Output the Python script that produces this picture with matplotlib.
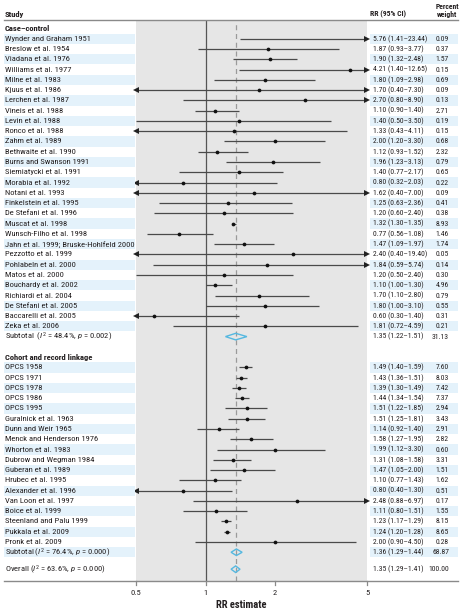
import matplotlib
matplotlib.use("Agg")
import matplotlib.pyplot as plt
import matplotlib.transforms as mtransforms
from matplotlib import font_manager as fm
from matplotlib.patches import Polygon, Rectangle
from matplotlib.lines import Line2D
from matplotlib.textpath import TextPath
from matplotlib.font_manager import FontProperties

# ---------------- data ----------------
cc_studies = ["Wynder and Graham 1951", "Breslow et al. 1954", "Viadana et al. 1976",
              "Williams et al. 1977", "Milne et al. 1983", "Kjuus et al. 1986",
              "Lerchen et al. 1987", "Vineis et al. 1988", "Levin et al. 1988",
              "Ronco et al. 1988", "Zahm et al. 1989", "Bethwaite et al. 1990",
              "Burns and Swanson 1991", "Siemiatycki et al. 1991", "Morabia et al. 1992",
              "Notani et al. 1993", "Finkelstein et al. 1995", "De Stefani et al. 1996",
              "Muscat et al. 1998", "Wunsch-Filho et al. 1998",
              "Jahn et al. 1999; Bruske-Hohlfeld 2000", "Pezzotto et al. 1999",
              "Pohlabeln et al. 2000", "Matos et al. 2000", "Bouchardy et al. 2002",
              "Richiardi et al. 2004", "De Stefani et al. 2005", "Baccarelli et al. 2005",
              "Zeka et al. 2006"]
cc_rr = [5.76, 1.87, 1.90, 4.21, 1.80, 1.70, 2.70, 1.10, 1.40, 1.33, 2.00, 1.12, 1.96, 1.40,
         0.80, 1.62, 1.25, 1.20, 1.32, 0.77, 1.47, 2.40, 1.84, 1.20, 1.10, 1.70, 1.80, 0.60, 1.81]
cc_lo = [1.41, 0.93, 1.32, 1.40, 1.09, 0.40, 0.80, 0.90, 0.50, 0.43, 1.20, 0.93, 1.23, 0.77,
         0.32, 0.40, 0.63, 0.60, 1.30, 0.56, 1.09, 0.40, 0.59, 0.50, 1.00, 1.10, 1.00, 0.30, 0.72]
cc_hi = [23.44, 3.77, 2.48, 12.65, 2.98, 7.30, 8.90, 1.40, 3.50, 4.11, 3.30, 1.52, 3.13, 2.17,
         2.03, 7.00, 2.36, 2.40, 1.35, 1.08, 1.97, 19.40, 5.74, 2.40, 1.30, 2.80, 3.10, 1.40, 4.59]
cc_w = [0.09, 0.37, 1.57, 0.15, 0.69, 0.09, 0.13, 2.71, 0.19, 0.15, 0.68, 2.32, 0.79, 0.65,
        0.22, 0.09, 0.41, 0.38, 8.93, 1.46, 1.74, 0.05, 0.14, 0.30, 4.96, 0.79, 0.55, 0.31, 0.21]
cc_sub = (1.35, 1.22, 1.51, 31.13)
cc_sub_label = r"Subtotal  ($\mathit{I}^{2}$ = 48.4%, $\mathit{p}$ = 0.002)"

co_studies = ["OPCS 1958", "OPCS 1971", "OPCS 1978", "OPCS 1986", "OPCS 1995",
              "Guralnick et al. 1963", "Dunn and Weir 1965", "Menck and Henderson 1976",
              "Whorton et al. 1983", "Dubrow and Wegman 1984", "Guberan et al. 1989",
              "Hrubec et al. 1995", "Alexander et al. 1996", "Van Loon et al. 1997",
              "Boice et al. 1999", "Steenland and Palu 1999", "Pukkala et al. 2009",
              "Pronk et al. 2009"]
co_rr = [1.49, 1.43, 1.39, 1.44, 1.51, 1.51, 1.14, 1.58, 1.99, 1.31, 1.47, 1.10, 0.80, 2.48,
         1.11, 1.23, 1.24, 2.00]
co_lo = [1.40, 1.36, 1.30, 1.34, 1.22, 1.25, 0.92, 1.27, 1.12, 1.08, 1.05, 0.77, 0.40, 0.88,
         0.80, 1.17, 1.20, 0.90]
co_hi = [1.59, 1.51, 1.49, 1.54, 1.85, 1.81, 1.40, 1.95, 3.30, 1.58, 2.00, 1.43, 1.30, 6.97,
         1.51, 1.29, 1.28, 4.50]
co_w = [7.60, 8.03, 7.42, 7.37, 2.94, 3.43, 2.91, 2.82, 0.60, 3.31, 1.51, 1.62, 0.51, 0.17,
        1.55, 8.15, 8.65, 0.28]
co_sub = (1.36, 1.29, 1.44, 68.87)
co_sub_label = r"Subtotal ($\mathit{I}^{2}$ = 76.4%, $\mathit{p}$ = 0.000)"

overall = (1.35, 1.29, 1.41, 100.00)
overall_label = r"Overall ($\mathit{I}^{2}$ = 63.6%, $\mathit{p}$ = 0.000)"

xticks = [0.5, 1, 2, 5]
xtick_labels = ["0.5", "1", "2", "5"]
xmin, xmax = 0.5, 5
ref_null = 1.0
ref_pooled = 1.35

# ---------------- font choice ----------------
entries = fm.fontManager.ttflist
names = {f.name for f in entries}
family = None
for cand in ['Liberation Sans Narrow', 'Roboto Condensed', 'Open Sans Condensed',
             'Noto Sans Condensed', 'DejaVu Sans Condensed', 'Arial Narrow']:
    if cand in names:
        family = cand
        break
if family is None:
    family = 'Liberation Sans' if 'Liberation Sans' in names else 'DejaVu Sans'

plt.rcParams['font.family'] = [family, 'DejaVu Sans']
plt.rcParams['mathtext.fontset'] = 'custom'
plt.rcParams['mathtext.rm'] = family
plt.rcParams['mathtext.it'] = family + ':italic'


def text_width(s, size, weight='normal'):
    fp = FontProperties(family=[family, 'DejaVu Sans'], size=size, weight=weight)
    tp = TextPath((0, 0), s, prop=fp)
    bb = tp.get_extents()
    return bb.width * 100 / 72.0  # points -> px at 100 dpi


FS = min(6.0 * 84.0 / text_width("Wynder and Graham 1951", 6.0), 7.2)
FSV = min(6.0 * 54.0 / text_width("5.76 (1.41\u201323.44)", 6.0), 7.2)
FSL = min(7.0 * 50.0 / text_width("RR estimate", 7.0, 'bold'), 8.5)

# ---------------- layout ----------------
W, H = 461, 612
fig = plt.figure(figsize=(W / 100, H / 100), dpi=100)


def fx(px):
    return px / W


def fy(py):
    return 1 - py / H


row0_px = 28.5
row_h = 10.27

ax_top_px, ax_bot_px = 20.5, 580.7
ax_left_px, ax_right_px = 136, 367
ax = fig.add_axes([fx(ax_left_px), fy(ax_bot_px), fx(ax_right_px - ax_left_px),
                   (ax_bot_px - ax_top_px) / H])
ax.set_xscale('log')
ax.set_xlim(xmin, xmax)
ax.set_ylim((ax_bot_px - row0_px) / row_h, (ax_top_px - row0_px) / row_h)
ax.set_facecolor('#e6e6e6')
for s in ax.spines.values():
    s.set_visible(False)
ax.set_xticks([])
ax.set_yticks([])
ax.xaxis.set_minor_locator(matplotlib.ticker.NullLocator())

trans = mtransforms.blended_transform_factory(fig.transFigure, ax.transData)

TXT = '#231f20'
STRIPE = '#e4f2fb'

rows = []
rows.append(("Case\u2013control", None, None, None, None, 'header', 0))
r = 1
for i in range(len(cc_studies)):
    rows.append((cc_studies[i], cc_rr[i], cc_lo[i], cc_hi[i], cc_w[i], 'study', r))
    r += 1
rows.append((cc_sub_label, cc_sub[0], cc_sub[1], cc_sub[2], cc_sub[3], 'sub', r))
r += 2
rows.append(("Cohort and record linkage", None, None, None, None, 'header', r))
r += 1
for i in range(len(co_studies)):
    rows.append((co_studies[i], co_rr[i], co_lo[i], co_hi[i], co_w[i], 'study', r))
    r += 1
rows.append((co_sub_label, co_sub[0], co_sub[1], co_sub[2], co_sub[3], 'sub', r))
r += 1.65
rows.append((overall_label, overall[0], overall[1], overall[2], overall[3], 'overall', r))

stripe_rows = list(range(1, 30, 2)) + list(range(33, 52, 2))
for sr in stripe_rows:
    for (x0, x1) in [(4, 135), (370, 458)]:
        fig.patches.append(Rectangle((fx(x0), sr - 0.5), fx(x1 - x0), 1.0,
                                     transform=trans, facecolor=STRIPE, edgecolor='none',
                                     zorder=0))

ax.axvline(ref_null, color='#555555', lw=0.9, zorder=1)
ax.axvline(ref_pooled, color='#9a9a9a', lw=0.9, ls=(0, (4, 3)), zorder=1)

LINEC = '#4a4a4a'
for (label, rr, lo, hi, w, kind, rp) in rows:
    weight = 'bold' if kind == 'header' else 'normal'
    fig.text(fx(5), rp, label, transform=trans, fontsize=FS, color=TXT, va='center',
             ha='left', fontweight=weight)
    if rr is None:
        continue
    fig.text(fx(373), rp, f"{rr:.2f} ({lo:.2f}\u2013{hi:.2f})", transform=trans,
             fontsize=FSV, color=TXT, va='center', ha='left')
    fig.text(fx(449), rp, f"{w:.2f}", transform=trans, fontsize=FSV, color=TXT,
             va='center', ha='right')
    if kind == 'study':
        x0 = max(lo, xmin)
        x1 = min(hi, xmax)
        ax.plot([x0, x1], [rp, rp], color=LINEC, lw=0.9, solid_capstyle='butt', zorder=3)
        if lo < xmin:
            ax.plot([xmin], [rp], marker='<', ms=3.8, color='#222222', clip_on=False,
                    markeredgewidth=0, zorder=4)
        if hi > xmax:
            ax.plot([xmax], [rp], marker='>', ms=3.8, color='#222222', clip_on=False,
                    markeredgewidth=0, zorder=4)
        if xmin <= rr <= xmax:
            ax.plot([rr], [rp], marker='o', ms=2.7, color='#111111', markeredgewidth=0,
                    zorder=5)
    else:
        hh = 0.32
        poly = Polygon([(lo, rp), (rr, rp - hh), (hi, rp), (rr, rp + hh)], closed=True,
                       facecolor='none', edgecolor='#55b8e0', lw=1.0, zorder=4)
        ax.add_patch(poly)

fig.text(fx(5), fy(14), "Study", fontsize=FS, fontweight='bold', color=TXT, va='center')
fig.text(fx(370), fy(14.5), "RR (95% CI)", fontsize=FSV, fontweight='bold', color=TXT,
         va='center')
fig.text(fx(447), fy(6.5), "Percent", fontsize=FSV, fontweight='bold', color=TXT,
         va='center', ha='center')
fig.text(fx(447), fy(15), "weight", fontsize=FSV, fontweight='bold', color=TXT,
         va='center', ha='center')

fig.add_artist(Line2D([fx(4), fx(458)], [fy(20.3), fy(20.3)], color='#8a8a8a', lw=1.0))
fig.add_artist(Line2D([fx(4), fx(458)], [fy(580.9), fy(580.9)], color='#8a8a8a', lw=1.0))

tick_trans = mtransforms.blended_transform_factory(ax.transData, fig.transFigure)
for t, lab in zip(xticks, xtick_labels):
    fig.add_artist(Line2D([t, t], [fy(581), fy(584.5)], transform=tick_trans,
                          color='#8a8a8a', lw=0.9))
    fig.text(t, fy(593), lab, transform=tick_trans, fontsize=FS, color=TXT,
             ha='center', va='center')

fig.text(fx(241), fy(605), "RR estimate", fontsize=FSL, fontweight='bold', color=TXT,
         ha='center', va='center')

fig.savefig("out.png", dpi=100)
